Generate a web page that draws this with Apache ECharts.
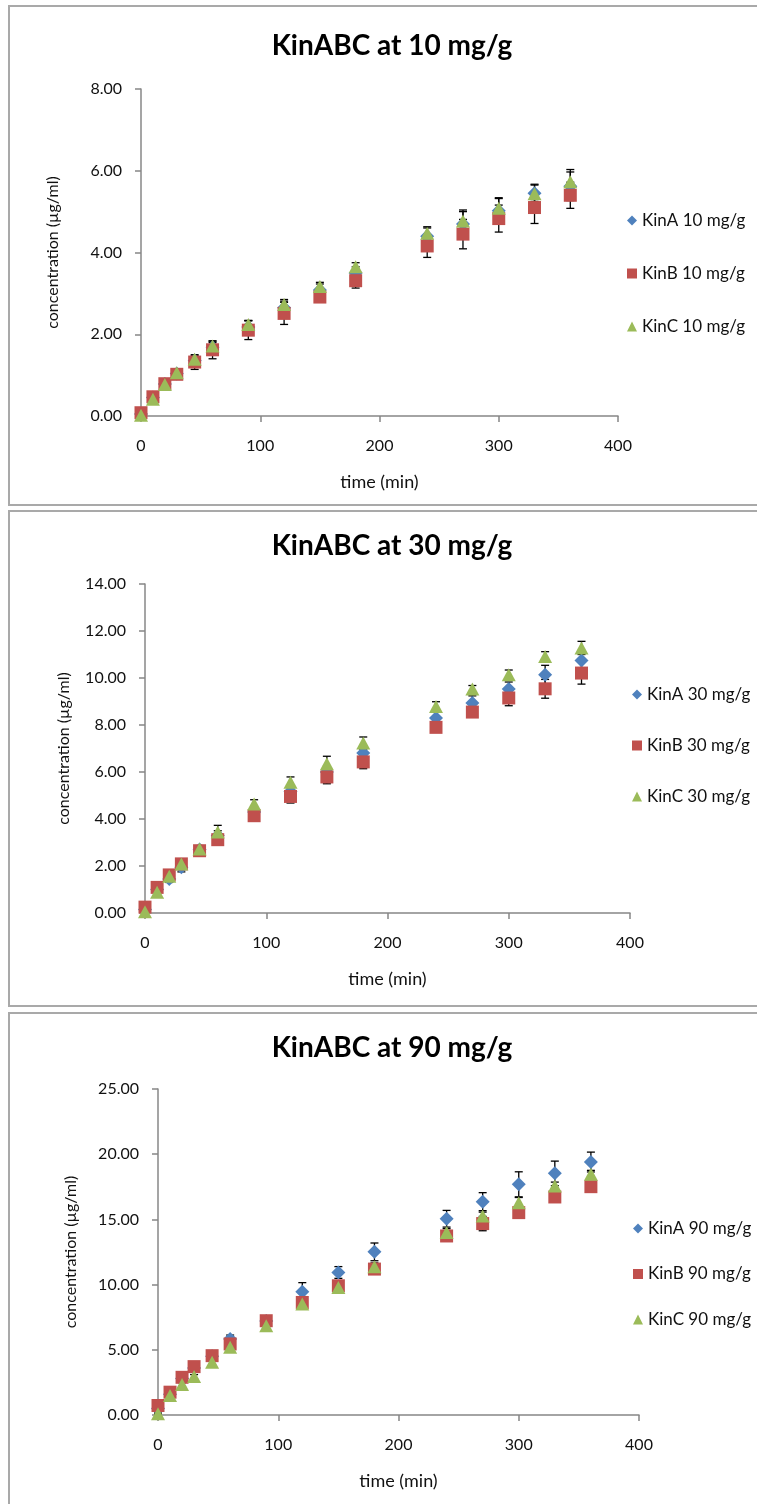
<!DOCTYPE html>
<html><head><meta charset="utf-8">
<script src="https://cdn.jsdelivr.net/npm/echarts@6/dist/echarts.min.js"></script>
<style>
html,body{margin:0;padding:0;background:#fff;}
#wrap{position:relative;width:757px;height:1504px;overflow:hidden;background:#fff;}
.panel{position:absolute;left:8px;width:770px;border:2px solid #a9a9a9;box-sizing:border-box;}
#chart{position:absolute;left:0;top:0;width:757px;height:1504px;}
</style></head>
<body><div id="wrap">
<div class="panel" style="top:5px;height:501px"></div>
<div class="panel" style="top:510px;height:497px"></div>
<div class="panel" style="top:1012px;height:530px"></div>
<div id="chart"></div></div>
<script>
// time points (min)
const times = [0,10,20,30,45,60,90,120,150,180,240,270,300,330,360];

// ---- 10 mg/g ----
const kinA10 = [0.05,0.45,0.78,1.04,1.36,1.68,2.18,2.65,3.08,3.50,4.40,4.70,5.02,5.45,5.62];
const kinA10err = [0.02,0.05,0.05,0.08,0.10,0.12,0.15,0.20,0.15,0.15,0.20,0.30,0.30,0.20,0.35];
const kinB10 = [0.08,0.47,0.79,1.02,1.32,1.62,2.10,2.51,2.91,3.31,4.16,4.45,4.83,5.10,5.40];
const kinB10err = [0.02,0.05,0.05,0.10,0.18,0.22,0.23,0.27,0.10,0.18,0.28,0.36,0.33,0.39,0.32];
const kinC10 = [0.02,0.41,0.77,1.06,1.39,1.71,2.24,2.73,3.17,3.65,4.47,4.77,5.08,5.44,5.73];
const kinC10err = [0.02,0.05,0.05,0.05,0.08,0.12,0.10,0.08,0.10,0.10,0.16,0.27,0.26,0.23,0.30];

// ---- 30 mg/g ----
const kinA30 = [0.15,1.00,1.45,1.95,2.70,3.30,4.30,5.17,6.00,6.81,8.30,8.94,9.53,10.14,10.75];
const kinA30err = [0.05,0.10,0.15,0.20,0.15,0.20,0.20,0.20,0.25,0.30,0.25,0.30,0.30,0.40,0.35];
const kinB30 = [0.25,1.09,1.62,2.09,2.65,3.12,4.14,4.96,5.79,6.43,7.90,8.55,9.15,9.54,10.21];
const kinB30err = [0.05,0.10,0.10,0.15,0.10,0.24,0.15,0.28,0.29,0.29,0.20,0.20,0.33,0.40,0.47];
const kinC30 = [0.05,0.88,1.56,2.09,2.72,3.45,4.64,5.56,6.35,7.23,8.79,9.53,10.14,10.92,11.28];
const kinC30err = [0.05,0.10,0.10,0.10,0.15,0.28,0.18,0.23,0.32,0.26,0.20,0.15,0.20,0.20,0.28];

// ---- 90 mg/g ----
const kinA90 = [0.50,1.60,2.80,3.60,4.50,5.83,7.20,9.45,10.93,12.51,15.05,16.36,17.69,18.53,19.40];
const kinA90err = [0.10,0.20,0.20,0.30,0.30,0.30,0.40,0.70,0.45,0.68,0.64,0.69,0.96,0.94,0.76];
const kinB90 = [0.73,1.75,2.89,3.71,4.55,5.45,7.23,8.63,9.91,11.19,13.73,14.68,15.52,16.72,17.51];
const kinB90err = [0.10,0.20,0.20,0.30,0.20,0.25,0.30,0.30,0.30,0.30,0.30,0.55,0.30,0.30,0.30];
const kinC90 = [0.10,1.49,2.33,2.95,4.04,5.19,6.85,8.51,9.78,11.36,13.99,15.26,16.28,17.56,18.46];
const kinC90err = [0.05,0.10,0.15,0.15,0.20,0.20,0.25,0.30,0.30,0.30,0.30,0.30,0.40,0.30,0.30];

// axis settings
const titles = ['KinABC at 10 mg/g','KinABC at 30 mg/g','KinABC at 90 mg/g'];
const doses = ['10 mg/g','30 mg/g','90 mg/g'];
const yMax = [8, 14, 25];
const yStep = [2, 2, 5];
const xMax = 400, xStep = 100;
const xName = 'time (min)';
const yName = 'concentration (µg/ml)';

const FONT = 'Lato';
const TXT = '#111';
const COLORS = ['#4F81BD','#C0504D','#9BBB59'];
const SYMBOLS = ['diamond','rect','triangle'];
const SIZES = [14, 13, [14,13]];

const panels = [
  {A:kinA10,Ae:kinA10err,B:kinB10,Be:kinB10err,C:kinC10,Ce:kinC10err},
  {A:kinA30,Ae:kinA30err,B:kinB30,Be:kinB30err,C:kinC30,Ce:kinC30err},
  {A:kinA90,Ae:kinA90err,B:kinB90,Be:kinB90err,C:kinC90,Ce:kinC90err}
];

const layout = [
  {grid:{left:141,top:89,width:477,height:327}, titleTop:27, yGap:80, legend:{left:622,top:207,gap:36}},
  {grid:{left:145,top:584,width:485,height:329}, titleTop:527, yGap:73, legend:{left:627,top:681,gap:34}},
  {grid:{left:158,top:1089,width:481,height:326}, titleTop:1029, yGap:79, legend:{left:628,top:1215,gap:28.5}}
];

const chart = echarts.init(document.getElementById('chart'), null, {renderer:'canvas'});

const grid=[], xAxis=[], yAxis=[], title=[], legend=[], series=[];
panels.forEach((p, i) => {
  const L = layout[i];
  grid.push(L.grid);
  title.push({text:titles[i], left:387, top:L.titleTop, textAlign:'center',
    textStyle:{fontFamily:FONT, fontWeight:'bold', fontSize:28, color:'#000'}});
  const axisCommon = {
    axisLine:{show:true, lineStyle:{color:'#878787', width:1.5}},
    axisTick:{show:true, length:6, lineStyle:{color:'#878787', width:1.5}},
    splitLine:{show:false},
  };
  xAxis.push(Object.assign({type:'value', gridIndex:i, min:0, max:xMax, interval:xStep,
    axisLabel:{fontFamily:FONT, fontSize:16, color:TXT, margin:22},
    name:xName, nameLocation:'middle', nameGap:57,
    nameTextStyle:{fontFamily:FONT, fontSize:18, color:TXT}}, axisCommon));
  yAxis.push(Object.assign({type:'value', gridIndex:i, min:0, max:yMax[i], interval:yStep[i],
    axisLabel:{fontFamily:FONT, fontSize:16, color:TXT, margin:19, formatter:v=>v.toFixed(2)},
    name:yName, nameLocation:'middle', nameGap:L.yGap,
    nameTextStyle:{fontFamily:FONT, fontSize:16, color:TXT}}, axisCommon));
  const names = ['KinA '+doses[i],'KinB '+doses[i],'KinC '+doses[i]];
  legend.push({orient:'vertical', left:L.legend.left, top:L.legend.top, itemGap:L.legend.gap,
    itemWidth:10, itemHeight:10, itemStyle:{borderWidth:0},
    textStyle:{fontFamily:FONT, fontSize:17, color:TXT, lineHeight:17},
    data:names.map((n,k)=>({name:n, icon:SYMBOLS[k]}))});
  const vals=[p.A,p.B,p.C], errs=[p.Ae,p.Be,p.Ce];
  vals.forEach((v,k)=>{
    series.push({type:'scatter', name:names[k], xAxisIndex:i, yAxisIndex:i,
      symbol:SYMBOLS[k], symbolSize:SIZES[k], itemStyle:{color:COLORS[k], opacity:1},
      data:times.map((t,j)=>[t, v[j]]), z:2});
    series.push({type:'custom', name:'err'+i+k, xAxisIndex:i, yAxisIndex:i, silent:true, z:2,
      data:times.map((t,j)=>[t, v[j]-errs[k][j], v[j]+errs[k][j]]),
      encode:{x:0, y:[1,2]},
      renderItem:(params, api)=>{
        const x = api.value(0);
        const lo = api.coord([x, api.value(1)]);
        const hi = api.coord([x, api.value(2)]);
        const w = 4;
        const st = {stroke:'#000', lineWidth:1.3};
        return {type:'group', children:[
          {type:'line', shape:{x1:lo[0],y1:lo[1],x2:hi[0],y2:hi[1]}, style:st},
          {type:'line', shape:{x1:hi[0]-w,y1:hi[1],x2:hi[0]+w,y2:hi[1]}, style:st},
          {type:'line', shape:{x1:lo[0]-w,y1:lo[1],x2:lo[0]+w,y2:lo[1]}, style:st}
        ]};
      }});
  });
});

chart.setOption({animation:false, backgroundColor:'transparent', grid, xAxis, yAxis, title, legend, series});
</script>
</body></html>
